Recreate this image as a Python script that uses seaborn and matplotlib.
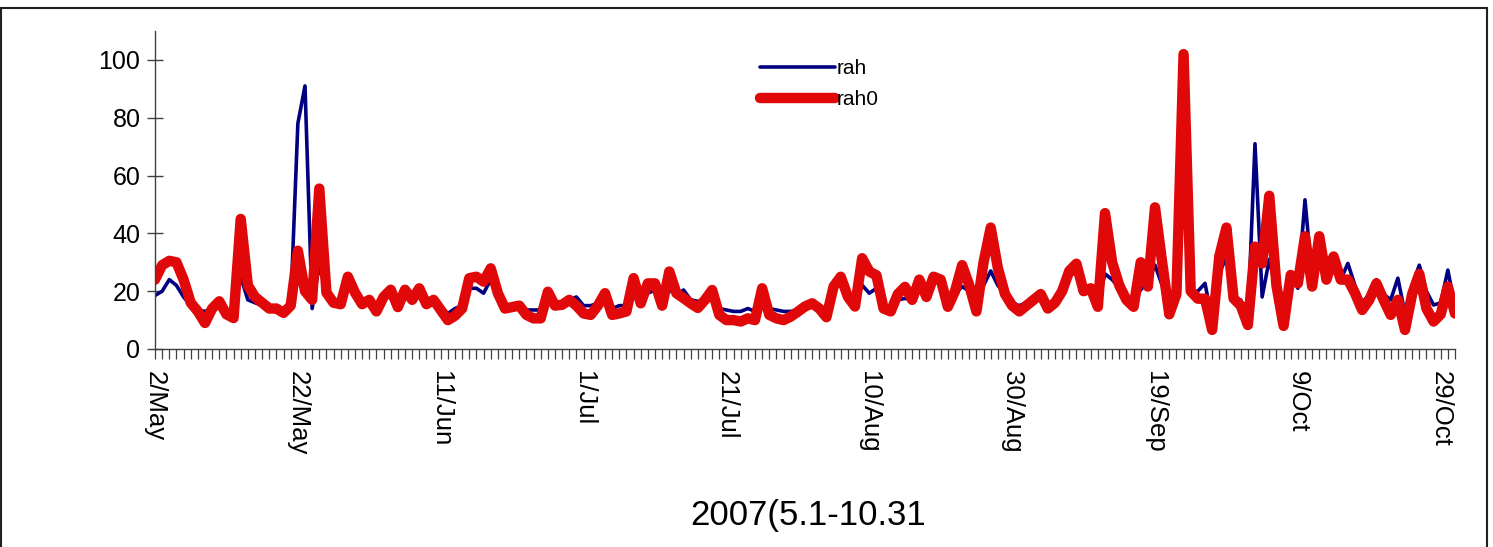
import numpy as np
import pandas as pd
import matplotlib
matplotlib.use("Agg")
import matplotlib.pyplot as plt
import seaborn as sns
from matplotlib.patches import Rectangle
from matplotlib.ticker import MultipleLocator, FixedLocator

# ---------------- data ----------------
dates = pd.date_range("2007-05-02", "2007-10-31", freq="D")

rah = [
    18.5, 20, 24, 22, 18, 15, 13.5, 13, 14, 16,
    13, 11.5, 25, 17, 16, 15, 14, 14, 13, 15,
    78, 91, 14, 29, 19, 16, 16, 23, 19, 16,
    17, 14, 18, 21.5, 15, 20, 18, 20, 16, 17,
    14.6, 12.3, 14, 15, 21, 21, 19.3, 24, 19.5, 15,
    15, 15.3, 13.5, 13.5, 13.5, 18, 15.8, 16, 17, 18,
    15, 15, 15.8, 18.7, 14, 15, 15, 19.3, 17, 19.3,
    20.4, 17, 20.4, 18.7, 20.4, 17, 16.5, 17, 19.5, 14,
    13.5, 13, 13, 14, 13, 19.3, 14, 13.5, 13, 13,
    13.5, 14.7, 15.8, 14.5, 12, 21.6, 22.7, 18.5, 15, 22.1,
    19.3, 21, 15, 14, 17, 17.5, 17, 22, 18, 24,
    22, 17, 19, 21.6, 20, 16, 22, 27, 22, 19,
    16, 15, 16, 17, 18.5, 15, 16, 20, 25, 27,
    19.5, 20, 16, 26, 24, 21, 18, 16.7, 20.5, 23,
    29, 22, 16, 18, 53, 20, 20, 22.7, 10, 26,
    32, 17, 17, 10, 71, 18, 31, 20, 13.5, 25,
    21, 51.6, 24, 37, 23, 31, 24, 29.6, 22, 16,
    19, 24, 19, 17, 24.5, 12.3, 22, 29, 20, 15.2,
    16, 27.3, 14.5,
]

rah0 = [
    24, 29, 30.5, 30, 24, 16, 13, 9, 14, 16.5,
    12, 10.7, 45, 22, 18, 16, 14, 14, 12.5, 15,
    34, 20, 17, 55.5, 19.5, 16, 15.5, 25, 19.5, 15.5,
    17, 13, 18, 20.5, 14.5, 20.5, 17, 21, 15.5, 17,
    13.5, 10, 11.5, 14, 24.5, 25, 23.3, 27.9, 19.3, 14,
    14.5, 15, 11.8, 10.6, 10.6, 19.8, 15, 15.3, 17, 15,
    12.3, 11.8, 15, 19.3, 11.8, 12.3, 13, 24.5, 15.8, 22.7,
    22.7, 15, 26.8, 19.3, 17.6, 15.8, 14.2, 17, 20.4, 11.8,
    10, 10, 9.5, 10.6, 10, 21, 11.8, 10.6, 10, 11.2,
    12.9, 14.7, 15.8, 14, 11, 21.6, 25, 18.1, 14.7, 31.4,
    26.8, 25.5, 14, 13, 19, 21.5, 17, 24, 18, 25,
    24, 14.6, 20, 29, 22, 13, 30, 42, 28, 19,
    15, 13, 15, 17, 19, 14, 16, 20, 27, 29.5,
    20, 21, 14.6, 47, 30, 22, 17, 14.6, 30, 21.6,
    49, 30, 12, 19, 102, 20, 17.4, 17.4, 6.6, 32,
    42, 17.5, 15, 8.3, 35.4, 29.6, 53, 22, 8, 25.6,
    22.7, 39, 21.6, 39, 24, 32, 24, 24, 19.3, 13.5,
    17, 22.7, 17, 11.8, 17, 6.6, 19, 26, 14, 9.5,
    12, 21.6, 12.3,
]

tick_labels = ["2/May", "22/May", "11/Jun", "1/Jul", "21/Jul",
               "10/Aug", "30/Aug", "19/Sep", "9/Oct", "29/Oct"]
x_title = "2007(5.1-10.31"
series_names = ["rah", "rah0"]
y_ticks = [0, 20, 40, 60, 80, 100]

# ---------------- figure ----------------
sns.set_style("white")
plt.rcParams["font.family"] = ["Liberation Sans", "DejaVu Sans"]
plt.rcParams["text.color"] = "black"

W, H = 1493, 547
fig = plt.figure(figsize=(W / 100, H / 100), dpi=100)
ax = fig.add_axes([155 / W, 1 - 349 / H, 1300 / W, (349 - 31) / H])

df = pd.DataFrame({"idx": np.arange(len(dates)), "rah": rah, "rah0": rah0})

sns.lineplot(data=df, x="idx", y="rah", ax=ax, color="#000080", linewidth=2.6,
             label=series_names[0], solid_joinstyle="round", solid_capstyle="round")
sns.lineplot(data=df, x="idx", y="rah0", ax=ax, color="#E00808", linewidth=7.5,
             label=series_names[1], solid_joinstyle="round", solid_capstyle="round")

ax.set_xlim(0, len(dates) - 1)
ax.set_ylim(0, 110)
ax.set_xlabel("")
ax.set_ylabel("")

for s in ["top", "right"]:
    ax.spines[s].set_visible(False)
for s in ["left", "bottom"]:
    ax.spines[s].set_color("#404040")
    ax.spines[s].set_linewidth(1.0)

# y axis
ax.yaxis.set_major_locator(FixedLocator(y_ticks))
ax.tick_params(axis="y", which="major", direction="inout", length=11,
               width=1.0, color="#404040", labelsize=18, pad=5, left=True,
               labelcolor="black")

# x axis: tick every day, label every 20 days
ax.xaxis.set_major_locator(FixedLocator(list(range(0, len(dates), 20))))
ax.xaxis.set_minor_locator(MultipleLocator(1))
ax.set_xticklabels(tick_labels, rotation=270, va="top", ha="center")
ax.tick_params(axis="x", which="both", direction="out", length=7,
               width=0.9, color="#404040", bottom=True)
ax.tick_params(axis="x", which="major", labelsize=18.5, pad=9,
               labelcolor="black")

# x title
fig.text(808 / W, 1 - 515 / H, x_title, ha="center", va="center",
         fontsize=25, color="black")

# legend
leg = ax.legend(loc="upper left", bbox_to_anchor=(750 / W, 1 - 49 / H),
                bbox_transform=fig.transFigure, frameon=False, fontsize=15,
                handlelength=3.6, handletextpad=0.05, labelspacing=0.55,
                borderpad=0)
for t in leg.get_texts():
    t.set_color("black")

# chart-area border
fig.patches.append(Rectangle((1 / W, -0.05), 1486 / W, 1.05 - 8 / H,
                             transform=fig.transFigure, fill=False,
                             edgecolor="#202020", linewidth=1.5))

fig.savefig("out.png", dpi=100)
